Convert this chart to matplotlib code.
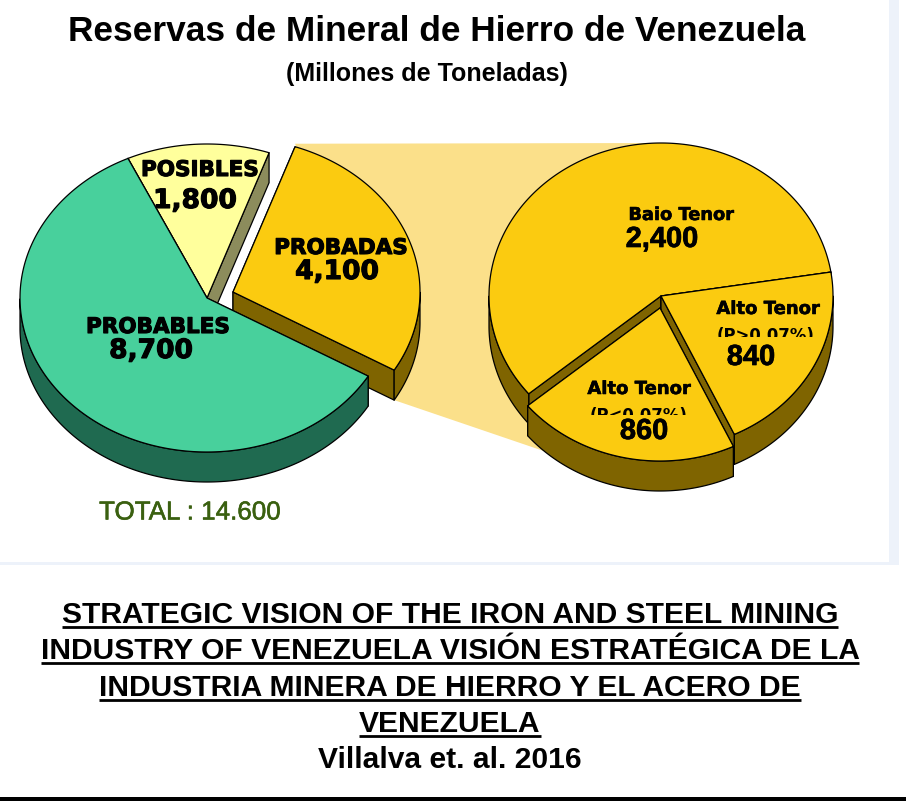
import numpy as np
import matplotlib
matplotlib.use("Agg")
import matplotlib.pyplot as plt
import matplotlib.patheffects as pe
from matplotlib.patches import Polygon, Rectangle

# data
main_labels = ["PROBABLES", "PROBADAS", "POSIBLES"]
main_values = [8700, 4100, 1800]
detail_labels = ["Baio Tenor", "Alto Tenor", "Alto Tenor"]
detail_notes = ["", "(P<0.07%)", "(P>0.07%)"]
detail_values = [2400, 860, 840]
total_label = "TOTAL : 14.600"
title = "Reservas de Mineral de Hierro de Venezuela"
subtitle = "(Millones de Toneladas)"
caption_lines = [
    "STRATEGIC VISION OF THE IRON AND STEEL MINING",
    "INDUSTRY OF VENEZUELA VISIÓN ESTRATÉGICA DE LA",
    "INDUSTRIA MINERA DE HIERRO Y EL ACERO DE",
    "VENEZUELA",
]
caption_source = "Villalva et. al. 2016"

# layout, in image pixels
DEPTH = 30
MAIN = dict(cx=207, cy=298, rx=187, ry=154, start=115)
DETAIL = dict(cx=661, cy=296, rx=172, ry=153, start=9)
MAIN_OFFSETS = [(0, 0), (26, -6), (0, 0)]
DETAIL_OFFSETS = [(0, 0), (-1, 12), (0, 0)]
MAIN_STYLE = [("#48d09c", "#1f6a50"), ("#fbcb10", "#7f6400"), ("#ffff9c", "#8c8c5c")]
DETAIL_STYLE = [("#fbcb10", "#7f6400")] * 3
PALE = "#fbe08a"
FRAME = "#edf2fa"

fig = plt.figure(figsize=(9.06, 8.01), dpi=100)
ax = fig.add_axes([0, 0, 1, 1])
ax.set_xlim(0, 906)
ax.set_ylim(801, 0)
ax.axis("off")


def px(size):
    return size * 0.72


def rim(pie, angle, offset=(0, 0)):
    a = np.radians(angle)
    return np.column_stack([
        pie["cx"] + offset[0] + pie["rx"] * np.cos(a),
        pie["cy"] + offset[1] - pie["ry"] * np.sin(a),
    ])


def slice_angles(pie, values):
    edges = pie["start"] + np.cumsum([0] + list(values)) / sum(values) * 360
    return list(zip(edges[:-1], edges[1:]))


def draw_slice(pie, a0, a1, offset, colors, z):
    top, side = colors
    angles = np.linspace(a0, a1, 500)
    arc = rim(pie, angles, offset)
    apex = np.array([[pie["cx"] + offset[0], pie["cy"] + offset[1]]])
    drop = np.array([0, DEPTH])
    style = dict(edgecolor="black", linewidth=0.9, joinstyle="round")
    # the cut face nearer the viewer goes on top
    for end in sorted((arc[0], arc[-1]), key=lambda p: p[1]):
        quad = np.vstack([apex, [end], [end + drop], apex + drop])
        ax.add_patch(Polygon(quad, facecolor=side, zorder=z, **style))
    front = arc[np.sin(np.radians(angles)) <= 0]
    if len(front):
        wall = np.vstack([front, (front + drop)[::-1]])
        ax.add_patch(Polygon(wall, facecolor=side, zorder=z + 0.1, **style))
    ax.add_patch(Polygon(np.vstack([apex, arc]), facecolor=top, zorder=z + 0.2, **style))


def label(x, y, text, size, family="DejaVu Sans", weight="bold", color="black", clip_y=None, stroke=0):
    t = ax.text(x, y, text, fontsize=px(size), family=family, fontweight=weight, color=color,
                ha="center", va="center_baseline", zorder=20)
    if stroke:
        t.set_path_effects([pe.withStroke(linewidth=stroke, foreground=color)])
    if clip_y is not None:
        t.set_clip_path(Rectangle((0, 0), 906, clip_y, transform=ax.transData))
        t.set_clip_on(True)
    return t


# page background
ax.add_patch(Rectangle((889, 0), 10, 565, facecolor=FRAME, edgecolor="none", zorder=0))
ax.add_patch(Rectangle((0, 562), 899, 3, facecolor=FRAME, edgecolor="none", zorder=0))
ax.add_patch(Rectangle((0, 797), 906, 4, facecolor="black", edgecolor="none", zorder=0))

main_angles = slice_angles(MAIN, main_values)
detail_angles = slice_angles(DETAIL, detail_values)

# pale band joining the cut-out slice to the detail pie
a0, a1 = main_angles[1]
band = np.vstack([
    rim(MAIN, [a1], MAIN_OFFSETS[1]) - [0, 3],
    [[DETAIL["cx"], DETAIL["cy"] - DETAIL["ry"]], [DETAIL["cx"], DETAIL["cy"]]],
    rim(DETAIL, [detail_angles[1][0] + 8], DETAIL_OFFSETS[1]) + [0, DEPTH],
    rim(MAIN, [a0], MAIN_OFFSETS[1]) + [0, DEPTH],
])
ax.add_patch(Polygon(band, facecolor=PALE, edgecolor="none", zorder=1))

# back to front
for z, i in zip([2, 3, 4], [2, 1, 0]):
    draw_slice(MAIN, *main_angles[i], MAIN_OFFSETS[i], MAIN_STYLE[i], z)
for z, i in zip([5, 6, 7], [0, 2, 1]):
    draw_slice(DETAIL, *detail_angles[i], DETAIL_OFFSETS[i], DETAIL_STYLE[i], z)

# titles
label(437, 28, title, 35.3, family="Liberation Sans")
label(427, 72, subtitle, 25, family="Liberation Sans")

# main pie labels
main_pos = [((158, 325), (151, 348)), ((341, 246), (337, 269)), ((200, 168), (195, 198))]
for name, value, (p_name, p_value) in zip(main_labels, main_values, main_pos):
    label(*p_name, name, 21.5, stroke=0.8)
    label(*p_value, f"{value:,}", 26.5, stroke=0.8)

# detail pie labels
label(681, 213, detail_labels[0], 17.8, stroke=0.4)
label(662, 236, f"{detail_values[0]:,}", 29, family="Liberation Sans", stroke=0.5)
label(639, 387, detail_labels[1], 18, stroke=0.4)
label(639, 414, detail_notes[1], 16.5, clip_y=415)
label(644, 428, f"{detail_values[1]:,}", 29, family="Liberation Sans", stroke=0.5)
label(768, 307, detail_labels[2], 18, stroke=0.4)
label(766, 334, detail_notes[2], 16.5, clip_y=337)
label(751, 354, f"{detail_values[2]:,}", 29, family="Liberation Sans", stroke=0.5)

label(190, 510, total_label, 26, family="Liberation Sans", weight="normal", color="#3a6010", stroke=0.4)

# caption, underlined by hand
caption_y = [612, 648, 685, 721]
fig.canvas.draw()
renderer = fig.canvas.get_renderer()
for line, y in zip(caption_lines, caption_y):
    t = label(450, y, line, 30, family="Liberation Sans")
    box = t.get_window_extent(renderer).transformed(ax.transData.inverted())
    ax.plot([box.x0, box.x1], [y + 15, y + 15], color="black", lw=2, solid_capstyle="butt", zorder=20)
label(450, 757, caption_source, 30, family="Liberation Sans")

fig.savefig("out.png", dpi=100)
